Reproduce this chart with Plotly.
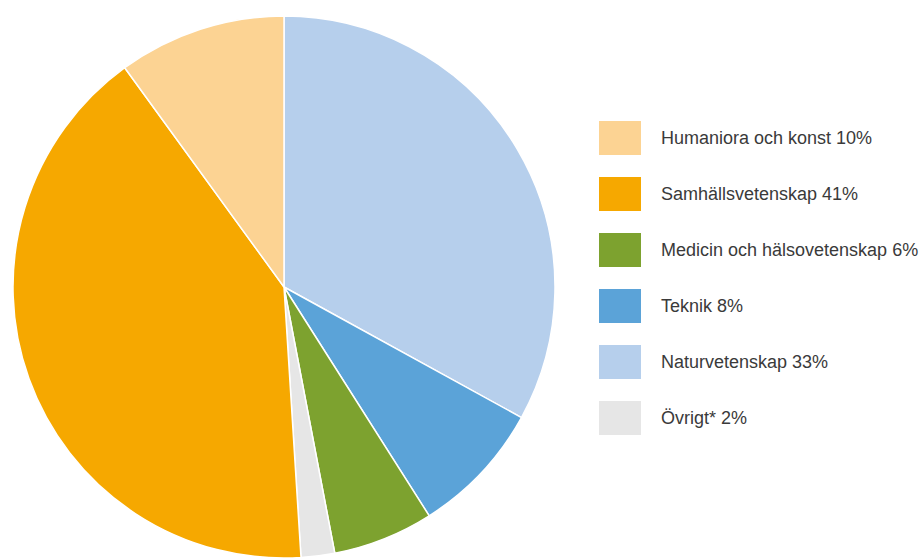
import plotly.graph_objects as go

# Share of researchers by field (percent)
categories = ["Humaniora och konst", "Samhällsvetenskap", "Medicin och hälsovetenskap",
              "Teknik", "Naturvetenskap", "Övrigt*"]
shares = [10, 41, 6, 8, 33, 2]
colors = ["#FCD393", "#F6A800", "#7DA22F", "#5BA3D8", "#B6CFEC", "#E6E6E6"]

# clockwise from 12 o'clock in the pie
pie_order = [4, 3, 2, 5, 1, 0]

W, H = 919, 558

fig = go.Figure()

fig.add_trace(go.Pie(
    labels=[categories[i] for i in pie_order],
    values=[shares[i] for i in pie_order],
    marker=dict(colors=[colors[i] for i in pie_order],
                line=dict(color="white", width=1.5)),
    sort=False,
    direction="clockwise",
    rotation=0,
    textinfo="none",
    hoverinfo="label+percent",
    showlegend=False,
    domain=dict(x=[13 / W, 555 / W], y=[0, 1 - 16 / H]),
))

# Hand-drawn legend to keep the reference order
row0, step = 138, 56
for i, (cat, val, col) in enumerate(zip(categories, shares, colors)):
    yc = row0 + i * step
    fig.add_shape(
        type="rect", xref="paper", yref="paper",
        x0=599 / W, x1=641 / W,
        y0=1 - (yc + 17) / H, y1=1 - (yc - 17) / H,
        fillcolor=col, line=dict(width=0),
    )
    fig.add_annotation(
        x=659 / W, y=1 - yc / H, xref="paper", yref="paper",
        text=f"{cat} {val}%",
        showarrow=False, xanchor="left", yanchor="middle",
        font=dict(size=18, color="#3a3a3a", family="Liberation Sans, Arial, sans-serif"),
    )

fig.update_layout(
    width=W, height=H,
    margin=dict(l=0, r=0, t=0, b=0),
    paper_bgcolor="white",
    plot_bgcolor="white",
)

# drop the default page margin so the figure sits at the window's corner
fig.write_html("out.html", config={"displayModeBar": False},
               post_script="document.body.style.margin='0';")
